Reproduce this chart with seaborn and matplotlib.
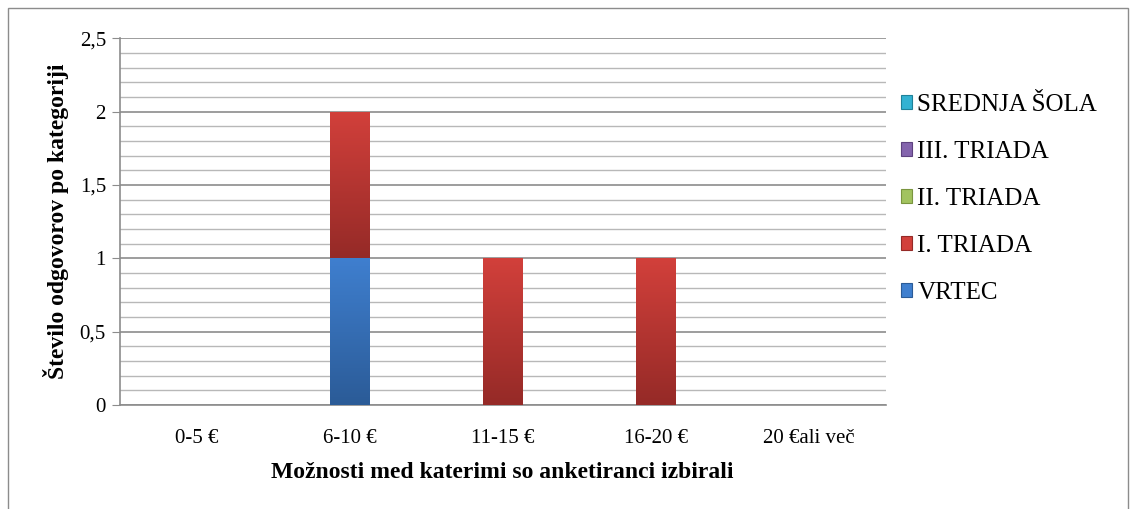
import numpy as np
import pandas as pd
import matplotlib
matplotlib.use("Agg")
import matplotlib.pyplot as plt
import matplotlib.colors as mcolors
from matplotlib.patches import Rectangle
from matplotlib.ticker import MultipleLocator, FuncFormatter
import seaborn as sns

categories = ["0-5 €", "6-10 €", "11-15 €", "16-20 €", "20 €ali več"]
vrtec = [0, 1, 0, 0, 0]
i_triada = [0, 1, 1, 1, 0]
ii_triada = [0, 0, 0, 0, 0]
iii_triada = [0, 0, 0, 0, 0]
srednja_sola = [0, 0, 0, 0, 0]

series_names = ["VRTEC", "I. TRIADA", "II. TRIADA", "III. TRIADA", "SREDNJA ŠOLA"]
series_values = [vrtec, i_triada, ii_triada, iii_triada, srednja_sola]
# (top colour, bottom colour) for the gradient fill
series_colors = [("#3f7fcf", "#2b5b97"), ("#d2403b", "#952a27"),
                 ("#a2c35f", "#7a953f"), ("#8464ad", "#5e427f"),
                 ("#33b2d2", "#1f8199")]

sns.set_style("white")
plt.rcParams["font.family"] = ["Liberation Serif", "DejaVu Serif"]
plt.rcParams["text.color"] = "black"
plt.rcParams["axes.labelcolor"] = "black"
plt.rcParams["xtick.color"] = "black"
plt.rcParams["ytick.color"] = "black"

fig = plt.figure(figsize=(11.31, 5.09), dpi=100)
ax = fig.add_axes([0.106, 0.204, 0.677, 0.721])

df = pd.DataFrame({"kategorija": categories})
bottom = np.zeros(len(categories))
for name, vals, cols in zip(series_names, series_values, series_colors):
    df[name] = vals
    sns.barplot(data=df, x="kategorija", y=name, color=cols[0], width=0.26,
                bottom=bottom, ax=ax, saturation=1, zorder=3, linewidth=0)
    bottom = bottom + np.array(vals)

# gradient fill on the bars
grad = np.linspace(0, 1, 256).reshape(-1, 1)
k = 0
for name, vals, cols in zip(series_names, series_values, series_colors):
    cmap = mcolors.LinearSegmentedColormap.from_list(name, [cols[1], cols[0]])
    for p in ax.patches[k:k + len(categories)]:
        if p.get_height() <= 0:
            p.set_visible(False)
            continue
        x0, y0 = p.get_x(), p.get_y()
        w, h = p.get_width(), p.get_height()
        im = ax.imshow(grad, cmap=cmap, aspect="auto", origin="lower",
                       extent=[x0, x0 + w, y0, y0 + h], zorder=4)
        im.set_clip_path(p)
    k += len(categories)

ax.set_xlim(-0.5, len(categories) - 0.5)
ax.set_ylim(0, 2.5)
ax.yaxis.set_major_locator(MultipleLocator(0.5))
ax.yaxis.set_minor_locator(MultipleLocator(0.1))
ax.yaxis.set_major_formatter(FuncFormatter(lambda v, p: f"{v:g}".replace(".", ",")))
ax.grid(axis="y", which="major", color="#8c8c8c", linewidth=1.2, zorder=0)
ax.grid(axis="y", which="minor", color="#b8b8b8", linewidth=1.0, zorder=0)
ax.set_axisbelow(True)

for s in ["top", "right"]:
    ax.spines[s].set_visible(False)
for s in ["left", "bottom"]:
    ax.spines[s].set_color("#8c8c8c")
    ax.spines[s].set_linewidth(1.2)

ax.tick_params(axis="y", which="major", left=True, length=6, color="#8c8c8c",
               labelcolor="black", labelsize=15, pad=4)
ax.tick_params(axis="y", which="minor", left=False)
ax.tick_params(axis="x", bottom=False, labelcolor="black", labelsize=15, pad=14)

ax.set_xlabel("Možnosti med katerimi so anketiranci izbirali", fontsize=17,
              fontweight="bold", labelpad=10)
ax.set_ylabel("Število odgovorov po kategoriji", fontsize=17,
              fontweight="bold", labelpad=8)

handles = [Rectangle((0, 0), 1, 1, facecolor=c[0], edgecolor=c[1], linewidth=0.8)
           for c in series_colors]
leg = ax.legend(handles[::-1], series_names[::-1], loc="center left",
                bbox_to_anchor=(0.991, 0.562), frameon=False, fontsize=18,
                handlelength=0.45, handleheight=0.45, handletextpad=0.2,
                labelspacing=1.0)

fig.patches.append(Rectangle((0.007, -0.01), 0.99, 0.995, transform=fig.transFigure,
                             fill=False, edgecolor="#8c8c8c", linewidth=1.0))

fig.savefig("out.png", dpi=100)
